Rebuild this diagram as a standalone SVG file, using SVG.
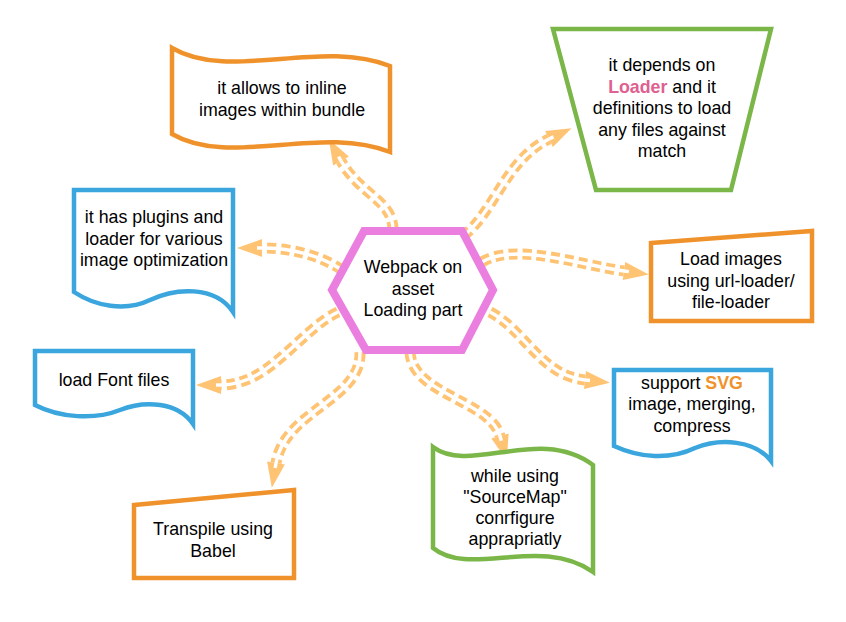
<svg xmlns="http://www.w3.org/2000/svg" width="846" height="622" viewBox="0 0 846 622">
<style>
.t{font-family:"Liberation Sans",Arial,sans-serif;font-size:17.8px;fill:#000;text-anchor:middle}
.c{fill:none;stroke:#ffc374;stroke-width:11;stroke-dasharray:9 5}
.w{fill:none;stroke:#fff;stroke-width:3.4}
.o{fill:#fff;stroke:#f0922b;stroke-width:4.5;stroke-linejoin:miter}
.g{fill:#fff;stroke:#7ab648;stroke-width:4.5}
.b{fill:#fff;stroke:#3aa6dd;stroke-width:4.5}
</style>
<defs>
<marker id="ah" markerUnits="userSpaceOnUse" markerWidth="28" markerHeight="22" viewBox="0 0 28 22" refX="0" refY="11" orient="auto" overflow="visible">
<path d="M0,2 L25,11 L0,20 Z" fill="#ffc374"/>
<rect x="0" y="9.3" width="5" height="3.4" fill="#fff"/>
</marker>
</defs>
<rect width="846" height="622" fill="#fff"/>
<g id="connectors">
<path class="c" d="M393,230 C393,200 360,195 341,161" marker-end="url(#ah)"/>
<path class="w" d="M393,230 C393,200 360,195 341,161"/>
<path class="c" d="M463,236 C495,212 505,160 549,139" marker-end="url(#ah)"/>
<path class="w" d="M463,236 C495,212 505,160 549,139"/>
<path class="c" d="M342,270 C320,255 290,248 262,248" marker-end="url(#ah)"/>
<path class="w" d="M342,270 C320,255 290,248 262,248"/>
<path class="c" d="M482,262 C515,242 580,265 624,271" marker-end="url(#ah)"/>
<path class="w" d="M482,262 C515,242 580,265 624,271"/>
<path class="c" d="M490,312 C525,330 540,375 585,380" marker-end="url(#ah)"/>
<path class="w" d="M490,312 C525,330 540,375 585,380"/>
<path class="c" d="M338,312 C300,330 270,385 221,385" marker-end="url(#ah)"/>
<path class="w" d="M338,312 C300,330 270,385 221,385"/>
<path class="c" d="M360,352 C362,400 285,410 276,463" marker-end="url(#ah)"/>
<path class="w" d="M360,352 C362,400 285,410 276,463"/>
<path class="c" d="M410,352 C412,395 490,400 500,436" marker-end="url(#ah)"/>
<path class="w" d="M410,352 C412,395 490,400 500,436"/>
</g>
<g id="center">
<path d="M364,231 L462,231 L493,290 L462,350 L366,350 L332,290 Z" fill="#fff" stroke="#ea7fe0" stroke-width="8"/>
<text class="t" x="413" y="273">Webpack on</text>
<text class="t" x="413" y="294.5">asset</text>
<text class="t" x="413" y="316">Loading part</text>
</g>
<g id="inline">
<path class="o" d="M172,48 C230,82 320,38 390,66 L390,152 C320,124 230,168 172,134 Z"/>
<text class="t" x="282" y="94">it allows to inline</text>
<text class="t" x="282" y="115.5">images within bundle</text>
</g>
<g id="loader">
<path class="g" d="M553,29 L771,29 L731,190 L596,190 Z"/>
<text class="t" x="662" y="71">it depends on</text>
<text class="t" x="662" y="92.5"><tspan fill="#e0608f" font-weight="bold">Loader</tspan> and it</text>
<text class="t" x="662" y="114">definitions to load</text>
<text class="t" x="662" y="135.5">any files against</text>
<text class="t" x="662" y="157">match</text>
</g>
<g id="plugins">
<path class="b" d="M74,190 L233,190 L233,312 C215,285 175,288 150,300 C125,312 95,306 74,292 Z"/>
<text class="t" x="154" y="223">it has plugins and</text>
<text class="t" x="154" y="244.5">loader for various</text>
<text class="t" x="154" y="266">image optimization</text>
</g>
<g id="images">
<path class="o" d="M651,243 L812,231 L812,321 L651,321 Z"/>
<text class="t" x="731" y="265">Load images</text>
<text class="t" x="731" y="286.5">using url-loader/</text>
<text class="t" x="731" y="308">file-loader</text>
</g>
<g id="svg">
<path class="b" d="M614,370 L771,370 L771,461 C755,440 720,438 695,448 C670,460 640,458 614,446 Z"/>
<text class="t" x="692" y="388.5">support <tspan fill="#f0922b" font-weight="bold">SVG</tspan></text>
<text class="t" x="692" y="410">image, merging,</text>
<text class="t" x="692" y="431.5">compress</text>
</g>
<g id="font">
<path class="b" d="M35,351 L193,351 L193,424 C178,402 145,400 120,410 C95,420 60,418 35,405 Z"/>
<text class="t" x="114" y="386">load Font files</text>
</g>
<g id="babel">
<path class="o" d="M134,505 L294,490 L294,578 L134,578 Z"/>
<text class="t" x="213" y="535">Transpile using</text>
<text class="t" x="213" y="556.5">Babel</text>
</g>
<g id="sourcemap">
<path class="g" d="M433,447 C470,475 540,425 593,465 L593,572 C540,535 470,578 433,548 Z"/>
<text class="t" x="515" y="481.5">while using</text>
<text class="t" x="515" y="502.8">"SourceMap"</text>
<text class="t" x="515" y="524.1">conrfigure</text>
<text class="t" x="515" y="545.4">apprapriatly</text>
</g>
</svg>
